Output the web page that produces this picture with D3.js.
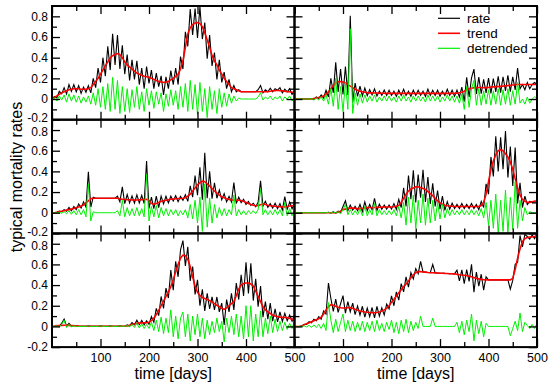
<!DOCTYPE html>
<html><head><meta charset="utf-8">
<script src="https://cdn.jsdelivr.net/npm/d3@7"></script>
<style>
html,body{margin:0;padding:0;background:#fff;}
text{font-family:"Liberation Sans",Arial,Helvetica,sans-serif;}
</style></head>
<body><svg id="c" width="550" height="387"></svg>
<script>
// time grid (days)
const days = d3.range(0, 501, 5);
const xTickLabels = [100, 200, 300, 400, 500];
const yTickLabels = [-0.2, 0, 0.2, 0.4, 0.6, 0.8];
const seriesNames = ["rate", "trend", "detrended"];

// Panel 1 (top left)
const trend1 = [0,.015,.03,.045,.06,.07,.08,.09,.095,.1,
 .1,.1,.095,.095,.095,.1,.11,.14,.17,.2,
 .24,.28,.32,.36,.4,.42,.43,.44,.43,.4,
 .36,.33,.31,.29,.27,.25,.24,.23,.22,.215,
 .21,.2,.19,.18,.17,.165,.16,.165,.17,.185,
 .2,.22,.24,.29,.37,.5,.63,.69,.72,.735,
 .74,.73,.7,.64,.57,.5,.42,.37,.33,.28,
 .24,.2,.17,.14,.11,.1,.09,.08,.07,.07,
 .07,.07,.07,.07,.07,.07,.07,.07,.07,.07,
 .075,.08,.08,.085,.08,.08,.075,.07,.07,.065,
 .065];
const detr1 = [0,.01,-.02,.03,-.01,.04,-.03,.05,-.02,.04,
 -.03,.03,-.04,.02,-.03,.03,-.05,.06,-.06,.1,
 -.08,.12,-.1,.15,-.12,.21,-.1,.18,-.14,.12,
 -.12,.1,-.13,.09,-.08,.12,-.1,.07,-.12,.1,
 -.06,.08,-.09,.07,-.05,.06,-.12,.05,-.07,.09,
 -.06,.08,-.1,.12,-.08,.15,-.12,.18,-.1,.14,
 -.15,.16,-.12,.1,-.18,.12,-.1,.08,-.14,.1,
 -.08,.06,-.07,.05,-.04,.03,-.02,.01,0,0,
 0,0,0,0,0,.02,.06,-.01,.02,0,
 .03,-.01,.02,0,.03,-.02,.02,0,.03,-.02,
 .01];

// Panel 2 (top right)
const trend2 = [0,0,0,0,0,0,0,0,.005,.01,
 .015,.02,.03,.045,.07,.1,.13,.155,.168,.17,
 .165,.155,.14,.125,.11,.095,.085,.075,.07,.065,
 .062,.06,.06,.058,.058,.057,.056,.056,.055,.055,
 .055,.055,.055,.055,.055,.055,.055,.055,.055,.055,
 .055,.055,.055,.055,.055,.055,.055,.055,.055,.055,
 .055,.055,.055,.055,.055,.055,.056,.057,.06,.065,
 .075,.09,.1,.105,.11,.11,.112,.112,.11,.11,
 .112,.115,.118,.12,.12,.122,.125,.128,.13,.132,
 .135,.138,.14,.14,.14,.14,.14,.14,.14,.14,
 .14];
const detr2 = [0,0,0,0,0,0,0,.005,-.01,.01,
 -.01,.02,-.02,.04,-.05,.1,-.07,.2,-.1,.12,
 -.12,.16,-.1,.68,-.14,.06,-.06,.05,-.04,.04,
 -.03,.03,-.02,.04,-.03,.02,-.02,.03,-.02,.03,
 -.02,.02,-.03,.03,-.02,.04,-.02,.02,-.03,.03,
 -.02,.03,-.02,.02,-.03,.04,-.02,.03,-.02,.03,
 -.03,.02,-.02,.04,-.02,.03,-.03,.03,-.04,.05,
 -.1,.12,-.08,.1,.18,-.06,.1,-.06,.08,-.05,
 .09,-.06,.08,-.05,.1,-.06,.09,-.05,.1,-.06,
 .08,-.05,.16,-.04,0,-.05,.02,-.04,0,.02,
 0];

// Panel 3 (middle left)
const trend3 = [0,0,.005,.01,.015,.02,.025,.03,.035,.04,
 .05,.055,.065,.075,.095,.115,.135,.14,.14,.14,
 .14,.14,.14,.14,.14,.14,.14,.14,.135,.13,
 .128,.125,.125,.123,.122,.123,.125,.127,.128,.13,
 .12,.09,.08,.09,.1,.11,.115,.12,.125,.13,
 .133,.135,.137,.138,.14,.145,.16,.18,.21,.24,
 .27,.29,.305,.3,.28,.26,.235,.21,.19,.17,
 .155,.145,.135,.128,.124,.122,.12,.12,.118,.11,
 .1,.09,.08,.072,.068,.07,.078,.085,.08,.072,
 .068,.065,.062,.06,.058,.057,.057,.06,.065,.068,
 .07];
const detr3 = [0,0,0,.005,-.005,.01,-.01,.02,-.015,.02,
 -.02,.03,-.02,.03,-.04,.28,-.08,.01,0,0,
 0,0,0,0,0,0,0,.02,-.03,.12,
 -.04,.05,-.03,.04,-.03,.05,-.03,.04,-.04,.37,
 -.08,.06,-.04,.07,-.05,.05,-.03,.04,-.03,.03,
 -.02,.03,-.03,.02,-.02,.03,-.05,.08,-.06,.12,
 -.1,.15,-.18,.28,-.14,.14,-.1,.08,-.05,.05,
 -.03,.04,-.03,.03,-.02,.17,-.03,.03,-.02,.02,
 -.02,.02,-.01,.02,-.01,.03,.23,-.02,.03,-.02,
 .02,-.02,.03,-.02,.03,-.03,.1,-.03,.04,-.03,
 .02];

// Panel 4 (middle right)
const trend4 = [0,0,0,0,0,0,0,0,0,0,
 0,0,0,0,0,0,0,0,.005,.015,
 .03,.035,.04,.045,.045,.042,.04,.04,.042,.045,
 .05,.05,.048,.05,.052,.053,.054,.055,.055,.055,
 .055,.058,.062,.07,.1,.14,.18,.21,.23,.24,
 .25,.25,.245,.235,.225,.205,.185,.165,.14,.115,
 .095,.082,.073,.068,.065,.062,.06,.06,.06,.06,
 .06,.06,.06,.06,.06,.06,.06,.07,.1,.18,
 .3,.42,.5,.56,.6,.61,.6,.57,.54,.49,
 .42,.33,.24,.17,.13,.11,.1,.1,.105,.11,
 .11];
const detr4 = [0,0,0,0,0,0,0,0,0,0,
 0,0,0,0,.005,-.005,.01,-.005,.01,-.01,
 .03,.08,-.02,.03,-.02,.02,-.02,.04,-.03,.06,
 -.03,.03,-.02,.09,-.03,.03,-.02,.02,-.02,.02,
 -.02,.03,-.03,.06,-.05,.1,-.12,.15,-.1,.17,
 -.15,.12,-.1,.18,-.12,.14,-.1,.12,-.08,.1,
 -.06,.08,-.05,.04,-.03,.03,-.02,.02,-.02,.03,
 -.02,.02,-.02,.03,-.02,.02,-.03,.04,-.05,.1,
 -.12,.12,-.15,.18,-.2,.12,-.18,.22,-.2,.15,
 -.16,.3,-.15,.12,-.08,.05,-.02,.01,0,0,
 0];

// Panel 5 (bottom left)
const trend5 = [0,.002,.005,.008,.01,.012,.012,.01,.008,.006,
 .005,.003,.002,.002,.002,.002,.002,.002,.002,.002,
 .002,.002,.002,.002,.002,.002,.002,.002,.002,.002,
 .002,.005,.01,.018,.025,.03,.032,.034,.035,.035,
 .04,.055,.08,.115,.155,.2,.245,.29,.335,.385,
 .45,.53,.6,.66,.69,.685,.65,.58,.48,.39,
 .33,.3,.28,.27,.26,.25,.235,.22,.205,.19,
 .175,.165,.18,.2,.22,.24,.3,.36,.4,.415,
 .42,.42,.41,.39,.34,.29,.24,.19,.16,.14,
 .125,.11,.1,.095,.09,.088,.086,.085,.08,.07,
 .06];
const detr5 = [0,0,.005,-.005,.02,.06,-.01,.02,-.005,.005,
 0,0,0,0,0,.005,0,0,0,0,
 .005,0,0,0,.005,0,0,0,.005,0,
 0,.01,-.005,.02,-.01,.03,-.015,.025,-.02,.02,
 -.02,.04,-.04,.06,-.05,.09,-.07,.08,-.06,.16,
 -.1,.1,-.12,.08,.14,-.1,.12,-.14,.1,-.08,
 .12,-.1,.08,-.12,.06,-.08,.05,-.06,.08,-.05,
 .05,-.15,.08,-.06,.1,-.08,.12,-.1,.1,-.12,
 .2,-.1,.2,-.14,.12,-.1,.15,-.1,.08,-.07,
 .1,-.06,.07,-.05,.05,-.04,.04,-.03,.03,-.02,
 .05];

// Panel 6 (bottom right)
const trend6 = [0,0,0,.005,.015,.025,.035,.045,.055,.065,
 .075,.09,.12,.16,.19,.21,.205,.195,.185,.18,
 .178,.178,.18,.182,.175,.165,.158,.15,.145,.14,
 .137,.135,.133,.133,.135,.14,.15,.16,.175,.2,
 .235,.26,.295,.325,.355,.385,.41,.44,.47,.5,
 .52,.53,.53,.527,.525,.522,.52,.52,.518,.517,
 .515,.515,.513,.512,.51,.51,.508,.505,.5,.497,
 .495,.49,.485,.48,.472,.465,.46,.455,.452,.45,
 .45,.45,.45,.45,.45,.45,.45,.45,.45,.45,
 .465,.55,.66,.75,.82,.85,.86,.865,.865,.87,
 .87];
const detr6 = [0,0,0,0,.005,-.005,.01,-.01,.015,-.01,
 .02,-.02,.03,-.04,.23,.06,-.06,.07,-.05,.04,
 .12,-.05,.06,-.04,.05,-.05,.04,-.04,.05,-.05,
 .04,-.04,.05,-.05,.06,-.04,.03,-.05,.04,-.03,
 .06,-.06,.04,-.07,.06,-.05,.07,-.06,.05,-.04,
 .04,-.02,.1,0,0,0,0,.08,0,0,
 0,0,0,0,0,0,0,.04,-.06,.05,
 -.08,.06,-.05,.12,-.14,.06,-.07,.05,-.1,.03,
 0,0,0,0,0,0,0,0,0,-.09,
 -.02,.05,-.04,.13,-.05,.04,.01,-.02,.02,-.02,
 .03];

const trends = [trend1, trend2, trend3, trend4, trend5, trend6];
const detrs = [detr1, detr2, detr3, detr4, detr5, detr6];

const svg = d3.select("#c");
svg.append("rect").attr("width", 550).attr("height", 387).attr("fill", "#fff");

const colX = [52, 294.5], colW = 242.5;
const rowY = [6, 119.7, 233.4], rowH = 113.7;
const fmt = d => d === 0 ? "0" : d.toFixed(1);
const GREEN = "#00f000";

const defs = svg.append("defs");

for (let p = 0; p < 6; p++) {
  const r = Math.floor(p / 2), c = p % 2;
  const x0 = colX[c], y0 = rowY[r];
  const x = d3.scaleLinear().domain([0, 500]).range([x0, x0 + colW]);
  const y = d3.scaleLinear().domain([-0.2, 0.9]).range([y0 + rowH, y0]);
  const trend = trends[p], detr = detrs[p];
  const rate = trend.map((t, i) => t + detr[i]);

  defs.append("clipPath").attr("id", "clip" + p)
    .append("rect").attr("x", x0).attr("y", y0).attr("width", colW).attr("height", rowH);

  const g = svg.append("g").attr("clip-path", `url(#clip${p})`);
  const line = vals => d3.line().x((d, i) => x(days[i])).y(d => y(d))(vals);
  g.append("path").attr("d", line(rate)).attr("fill", "none").attr("stroke", "#000").attr("stroke-width", 1.1);
  g.append("path").attr("d", line(trend)).attr("fill", "none").attr("stroke", "#ff0000").attr("stroke-width", 1.6);
  g.append("path").attr("d", line(detr)).attr("fill", "none").attr("stroke", GREEN).attr("stroke-width", 1);

  // axes with inward ticks
  const axG = svg.append("g").attr("class", "ax");
  const addAxis = (axis, tx, ty, fs) => {
    const a = axG.append("g").attr("transform", `translate(${tx},${ty})`).call(axis);
    a.select(".domain").remove();
    a.selectAll("line").attr("stroke", "#000").attr("stroke-width", 1.3);
    a.selectAll("text").attr("font-size", fs || 12.5).attr("fill", "#000")
      .style("font-family", '"Liberation Sans",Arial,sans-serif');
    return a;
  };
  const majX = [0, 100, 200, 300, 400, 500], minX = [50, 150, 250, 350, 450];
  const majY = yTickLabels, minY = [-0.1, 0.1, 0.3, 0.5, 0.7];
  // bottom
  addAxis(d3.axisBottom(x).tickValues(r === 2 ? xTickLabels : majX).tickSize(-8).tickPadding(6)
    .tickFormat(r === 2 ? d3.format("d") : ""), 0, y0 + rowH);
  addAxis(d3.axisBottom(x).tickValues(minX).tickSize(-5).tickFormat(""), 0, y0 + rowH);
  // top
  addAxis(d3.axisTop(x).tickValues(majX).tickSize(-8).tickFormat(""), 0, y0);
  addAxis(d3.axisTop(x).tickValues(minX).tickSize(-5).tickFormat(""), 0, y0);
  // left
  const la = addAxis(d3.axisLeft(y).tickValues(majY).tickSize(-8).tickPadding(4)
    .tickFormat(c === 0 ? fmt : ""), x0, 0, 12);
  // keep stacked "-0.2" / "0.8" labels of neighbouring panels apart
  la.selectAll("text").attr("dy", d => (d === -0.2 && r < 2) ? "0.14em" : (d === 0.8 && r > 0) ? "0.46em" : "0.32em");
  addAxis(d3.axisLeft(y).tickValues(minY).tickSize(-5).tickFormat(""), x0, 0);
  // right
  addAxis(d3.axisRight(y).tickValues(majY).tickSize(-8).tickFormat(""), x0 + colW, 0);
  addAxis(d3.axisRight(y).tickValues(minY).tickSize(-5).tickFormat(""), x0 + colW, 0);

  svg.append("rect").attr("x", x0).attr("y", y0).attr("width", colW).attr("height", rowH)
    .attr("fill", "none").attr("stroke", "#000").attr("stroke-width", 2);
}

// x titles
[0, 1].forEach(c => {
  svg.append("text").attr("x", colX[c] + colW / 2).attr("y", 379)
    .attr("text-anchor", "middle").attr("font-size", 16).text("time [days]");
});
// y title
svg.append("text").attr("transform", "translate(22,177) rotate(-90)")
  .attr("text-anchor", "middle").attr("font-size", 16).text("typical mortality rates");

// legend
const legColors = ["#000", "#ff0000", GREEN];
const legY = [18.3, 33.3, 48.3];
seriesNames.forEach((n, i) => {
  svg.append("line").attr("x1", 438).attr("x2", 460).attr("y1", legY[i]).attr("y2", legY[i])
    .attr("stroke", legColors[i]).attr("stroke-width", i === 1 ? 1.6 : 1.2);
  svg.append("text").attr("x", 467).attr("y", legY[i]).attr("dy", "0.35em")
    .attr("font-size", 13.5).text(n);
});
</script></body></html>
